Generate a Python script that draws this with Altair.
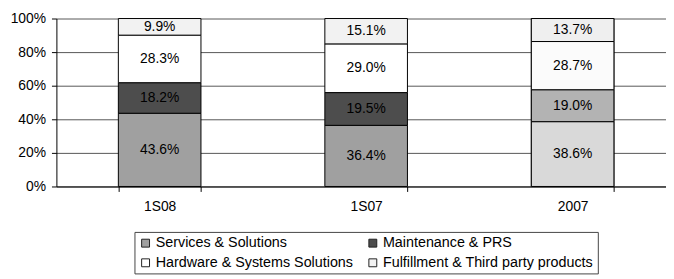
import altair as alt
import pandas as pd

categories = ["1S08", "1S07", "2007"]
series = ["Services & Solutions", "Maintenance & PRS",
          "Hardware & Systems Solutions", "Fulfillment & Third party products"]
services = [43.6, 36.4, 38.6]
maintenance = [18.2, 19.5, 19.0]
hardware = [28.3, 29.0, 28.7]
fulfillment = [9.9, 15.1, 13.7]
y_ticks = [0, 20, 40, 60, 80, 100]
series_colors = ["#a0a0a0", "#4d4d4d", "#ffffff", "#f2f2f2"]
colors_2007 = ["#d9d9d9", "#b3b3b3", "#fbfbfb", "#efefef"]

rows = []
for si, (s, vals) in enumerate(zip(series, [services, maintenance, hardware, fulfillment])):
    for ci, c in enumerate(categories):
        rows.append({"cat": c, "series": s, "order": si, "value": vals[ci],
                     "alt_fill": colors_2007[si]})
df = pd.DataFrame(rows)

FONT = "Liberation Sans"

base = alt.Chart(df).transform_stack(
    stack="value", groupby=["cat"], as_=["y0", "y1"],
    sort=[alt.SortField("order", order="ascending")]
).transform_calculate(
    mid="(datum.y0 + datum.y1) / 2",
    label="format(datum.value, '.1f') + '%'"
)

xaxis = alt.Axis(labelAngle=0, tickBand="extent", tickSize=5, grid=False,
                 domainColor="#000", tickColor="#000", labelPadding=8,
                 labelFontSize=14, labelColor="#000", labelFont=FONT)
xscale = alt.Scale(range=[0, 627], paddingInner=0.6, paddingOuter=0.3)
yaxis = alt.Axis(values=y_ticks, labelOverlap=False, tickCount=len(y_ticks),
                 labelExpr="datum.value + '%'", grid=True,
                 gridColor="#555", gridWidth=1, tickSize=5,
                 domainColor="#000", tickColor="#000", labelPadding=6,
                 labelFontSize=14, labelColor="#000", labelFont=FONT)
yscale = alt.Scale(domain=[0, 100], nice=False)


def X():
    return alt.X("cat:N", sort=categories, title=None, scale=xscale, axis=xaxis)


def Y(field):
    return alt.Y(field, title=None, scale=yscale, axis=yaxis)


bars = base.mark_bar(stroke="#000", strokeWidth=1).encode(
    x=X(), y=Y("y0:Q"), y2="y1:Q",
    color=alt.Color("series:N", sort=series,
                    scale=alt.Scale(domain=series, range=series_colors),
                    legend=alt.Legend(title=None, orient="none", legendX=79, legendY=216,
                                      columns=2, direction="horizontal",
                                      symbolType="square", symbolSize=64,
                                      symbolStrokeColor="#222", symbolStrokeWidth=1,
                                      labelFontSize=14.5, labelFont=FONT, labelColor="#000",
                                      labelLimit=0,
                                      strokeColor="#444", padding=4, rowPadding=5,
                                      columnPadding=12, symbolOffset=0, labelOffset=3))
)

bars2007 = base.transform_filter(alt.datum.cat == "2007").mark_bar(
    stroke="#000", strokeWidth=1).encode(
    x=X(), y=Y("y0:Q"), y2="y1:Q",
    fill=alt.Fill("alt_fill:N", scale=None)
)

text = base.mark_text(fontSize=14, font=FONT, color="#000", baseline="middle").encode(
    x=X(), y=Y("mid:Q"), text="label:N"
)

chart = alt.layer(bars, bars2007, text).properties(
    width=617, height=170,
    autosize=alt.AutoSizeParams(type="none"),
    padding={"left": 49, "top": 9, "right": 0, "bottom": 92}
).configure_view(stroke=None).configure_axisY(labelOverlap=False)

chart.save("out.html", embed_options={"renderer": "svg", "actions": False})
